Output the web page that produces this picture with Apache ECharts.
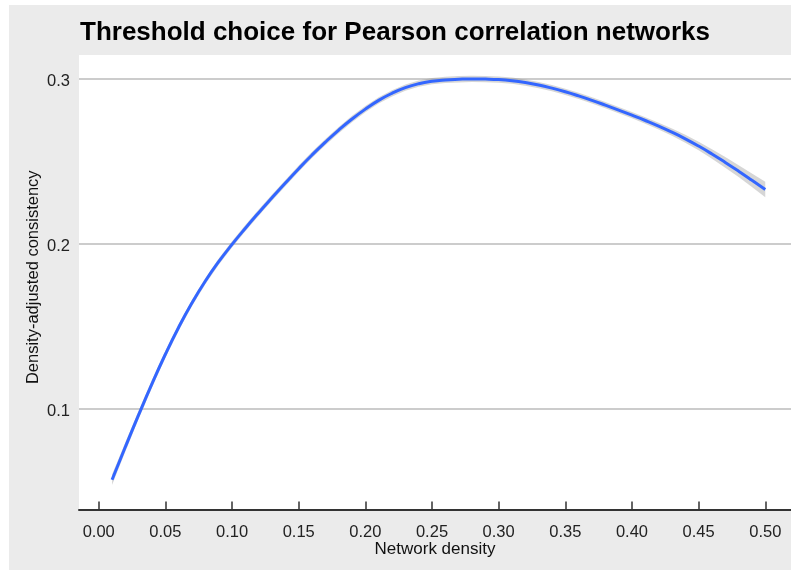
<!DOCTYPE html>
<html>
<head>
<meta charset="utf-8">
<script src="https://cdn.jsdelivr.net/npm/echarts@6/dist/echarts.min.js"></script>
<style>
  html, body { margin: 0; padding: 0; background: #ffffff; }
  #chart { width: 791px; height: 571px; }
</style>
</head>
<body>
<div id="chart"></div>
<script>
// Network density (x) for each threshold step
const density = [
  0.01, 0.02, 0.03, 0.04, 0.05, 0.06, 0.07, 0.08, 0.09, 0.10,
  0.11, 0.12, 0.13, 0.14, 0.15, 0.16, 0.17, 0.18, 0.19, 0.20,
  0.21, 0.22, 0.23, 0.24, 0.25, 0.26, 0.27, 0.28, 0.29, 0.30,
  0.31, 0.32, 0.33, 0.34, 0.35, 0.36, 0.37, 0.38, 0.39, 0.40,
  0.41, 0.42, 0.43, 0.44, 0.45, 0.46, 0.47, 0.48, 0.49, 0.50
];

// Smoothed density-adjusted consistency
const consistency = [
  0.0570, 0.0770, 0.0965, 0.1153, 0.1331, 0.1495, 0.1643, 0.1775, 0.1892, 0.1997,
  0.2095, 0.2189, 0.2280, 0.2369, 0.2456, 0.2539, 0.2617, 0.2690, 0.2757, 0.2817,
  0.2870, 0.2913, 0.2947, 0.2971, 0.2986, 0.2994, 0.2998, 0.3000, 0.2999, 0.2996,
  0.2989, 0.2978, 0.2963, 0.2944, 0.2922, 0.2897, 0.2870, 0.2841, 0.2811, 0.2780,
  0.2748, 0.2714, 0.2677, 0.2637, 0.2593, 0.2545, 0.2494, 0.2441, 0.2386, 0.2330
];

// Half-width of the confidence ribbon around the smooth
const ciHalfWidth = [
  0.0032, 0.0028, 0.0025, 0.0023, 0.0021, 0.0020, 0.0019, 0.0019, 0.0019, 0.0019,
  0.0019, 0.0019, 0.0019, 0.0019, 0.0019, 0.0019, 0.0019, 0.0019, 0.0019, 0.0019,
  0.0019, 0.0019, 0.0019, 0.0019, 0.0019, 0.0019, 0.0019, 0.0019, 0.0019, 0.0019,
  0.0019, 0.0019, 0.0019, 0.0019, 0.0019, 0.0019, 0.0019, 0.0019, 0.0019, 0.0019,
  0.0020, 0.0021, 0.0022, 0.0024, 0.0026, 0.0029, 0.0032, 0.0036, 0.0041, 0.0047
];

const xTicks = [0.00, 0.05, 0.10, 0.15, 0.20, 0.25, 0.30, 0.35, 0.40, 0.45, 0.50];
const yTicks = [0.1, 0.2, 0.3];

const FONT = '"Liberation Sans", Arial, Helvetica, sans-serif';

const smoothLine = density.map((x, i) => [x, consistency[i]]);

// Ribbon polygon: upper edge left-to-right, then lower edge right-to-left
function renderRibbon(params, api) {
  const upper = density.map((x, i) => api.coord([x, consistency[i] + ciHalfWidth[i]]));
  const lower = density.map((x, i) => api.coord([x, consistency[i] - ciHalfWidth[i]])).reverse();
  return {
    type: 'polygon',
    shape: { points: upper.concat(lower) },
    style: { fill: 'rgba(153,153,153,0.4)', stroke: null },
    silent: true
  };
}

const chart = echarts.init(document.getElementById('chart'), null, { renderer: 'canvas' });

chart.setOption({
  animation: false,
  backgroundColor: 'transparent',
  graphic: [
    {
      type: 'rect',
      z: -100,
      silent: true,
      shape: { x: 9, y: 5, width: 782, height: 565 },
      style: { fill: '#ebebeb' }
    }
  ],
  title: {
    text: 'Threshold choice for Pearson correlation networks',
    left: 80,
    top: 20,
    padding: 0,
    textStyle: {
      fontFamily: FONT,
      fontSize: 26,
      fontWeight: 'bold',
      color: '#000000'
    }
  },
  grid: {
    left: 79,
    right: 0,
    top: 55,
    bottom: 61.5,
    show: true,
    backgroundColor: '#ffffff',
    borderWidth: 0
  },
  xAxis: {
    type: 'value',
    min: -0.0148,
    max: 0.5193,
    name: 'Network density',
    nameLocation: 'middle',
    nameGap: 31,
    nameMoveOverlap: false,
    nameTextStyle: { fontFamily: FONT, fontSize: 17, color: '#111111' },
    axisLine: { show: true, onZero: false, lineStyle: { color: '#333333', width: 2 } },
    axisTick: {
      show: true,
      inside: true,
      length: 8,
      customValues: xTicks,
      lineStyle: { color: '#333333', width: 1.5 }
    },
    axisLabel: {
      customValues: xTicks,
      margin: 14,
      fontFamily: FONT,
      fontSize: 16.5,
      color: '#222222',
      formatter: v => v.toFixed(2)
    },
    splitLine: { show: false }
  },
  yAxis: {
    type: 'value',
    min: 0.039,
    max: 0.3145,
    name: 'Density-adjusted consistency',
    nameLocation: 'middle',
    nameGap: 37,
    nameMoveOverlap: false,
    nameTextStyle: { fontFamily: FONT, fontSize: 16.5, color: '#111111', padding: [0, 0, 0, 10] },
    axisLine: { show: false },
    axisTick: { show: false, customValues: yTicks },
    axisLabel: {
      customValues: yTicks,
      margin: 9,
      fontFamily: FONT,
      fontSize: 16.5,
      color: '#222222',
      formatter: v => '{v|' + v.toFixed(1) + '}',
      rich: {
        v: { fontFamily: FONT, fontSize: 16.5, color: '#222222', padding: [6, 0, 0, 0] }
      }
    },
    splitLine: { show: true, lineStyle: { color: '#cccccc', width: 2 } }
  },
  series: [
    {
      type: 'custom',
      coordinateSystem: 'cartesian2d',
      data: [smoothLine[0]],
      renderItem: renderRibbon,
      silent: true,
      z: 1
    },
    {
      type: 'line',
      data: smoothLine,
      smooth: true,
      symbol: 'none',
      lineStyle: { color: '#3366ff', width: 3, cap: 'butt' },
      z: 2
    }
  ]
});
</script>
</body>
</html>
